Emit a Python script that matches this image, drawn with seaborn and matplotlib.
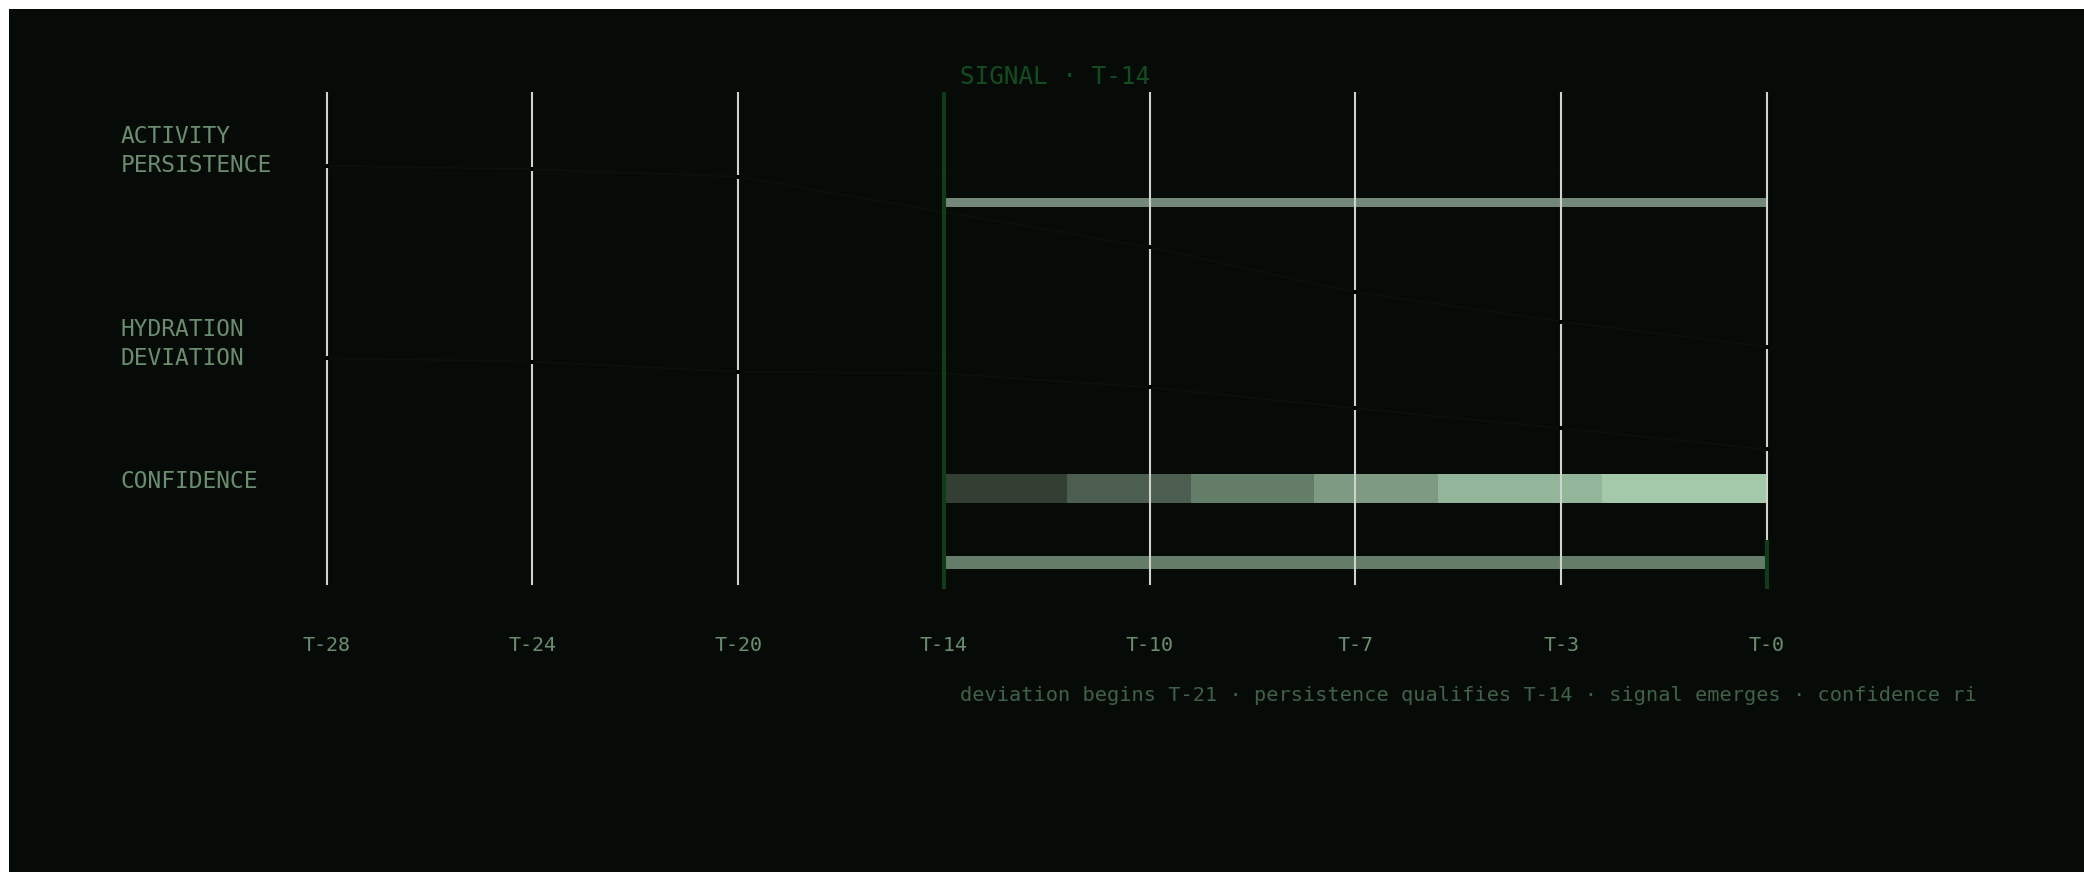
import matplotlib
matplotlib.use("Agg")
import matplotlib.pyplot as plt
from matplotlib.patches import Rectangle
import pandas as pd
import seaborn as sns

# ---------------- data ----------------
tick_labels = ["T-28", "T-24", "T-20", "T-14", "T-10", "T-7", "T-3", "T-0"]
activity_pct = [103.8, 102.0, 98.3, 80.6, 63.0, 40.5, 25.8, 13.3]    # % of baseline
hydration_pct = [100.0, 98.3, 93.3, 92.4, 85.5, 75.0, 65.0, 54.5]    # % of baseline
persistence_span = [3.0, 7.0]          # category index: T-14 .. T-0
signal_span = [3.0, 7.0]
conf_start = [3.0, 3.6, 4.2, 4.8, 5.4, 6.2]
conf_width = [0.6, 0.6, 0.6, 0.6, 0.8, 0.8]
conf_colors = ["#333f33", "#4c5e50", "#647d68", "#7e9a83", "#93b59a", "#a3c9aa"]
row_labels = ["ACTIVITY\nPERSISTENCE", "HYDRATION\nDEVIATION", "CONFIDENCE"]
signal_index = 3
title_text = "SIGNAL · T-14"
caption_text = ("deviation begins T-21 · persistence qualifies T-14 · "
                "signal emerges · confidence ri")

# ---------------- layout / style ----------------
W, H, DPI = 2084, 872, 100
BG = "#070b08"
GRID_C = "#d0d3cc"
GREEN = "#0e3d18"
LABEL_C = "#6a8d70"
CAPTION_C = "#3f6147"
TITLE_C = "#124d20"
MONO = ["DejaVu Sans Mono"]

ACT_BASE, HYD_BASE, PX_PER_PCT = 173.3, 358.3, 2.0
PERS_Y, PERS_H = 202.3, 8.7
CONF_Y, CONF_H = 488.3, 28.7
SIG_Y, SIG_H = 562.3, 12.7
GRID_TOP, GRID_BOT, GREEN_BOT, T0_GREEN_TOP = 91.7, 585.0, 589.0, 540.0
AX_TOP_PX, AX_BOT_PX, AX_LEFT_PX = 9, 600, 9
UNIT_PX = 205.75
X0_PX = 326.7

sns.set_theme(style="dark")
plt.rcParams["font.family"] = MONO

fig = plt.figure(figsize=(W / DPI, H / DPI), dpi=DPI, facecolor="white")
fig.patches.append(Rectangle((AX_LEFT_PX / W, 0), 1 - AX_LEFT_PX / W, 1 - AX_TOP_PX / H,
                             transform=fig.transFigure, facecolor=BG, edgecolor="none",
                             zorder=-5))
ax = fig.add_axes([AX_LEFT_PX / W, 1 - AX_BOT_PX / H, 1 - AX_LEFT_PX / W,
                   (AX_BOT_PX - AX_TOP_PX) / H])
ax.set_zorder(1)
ax.set_facecolor(BG)
xl = -(X0_PX - AX_LEFT_PX) / UNIT_PX
ax.set_xlim(xl, xl + (W - AX_LEFT_PX) / UNIT_PX)
ax.set_ylim(AX_BOT_PX, AX_TOP_PX)
for s in ax.spines.values():
    s.set_visible(False)
ax.grid(False)

idx = list(range(len(tick_labels)))

# bars
bar_kw = dict(edgecolor="none", linewidth=0, zorder=2)
ax.barh(PERS_Y, persistence_span[1] - persistence_span[0], left=persistence_span[0],
        height=PERS_H, color="#74887a", **bar_kw)
ax.barh([CONF_Y] * len(conf_start), conf_width, left=conf_start, height=CONF_H,
        color=conf_colors, **bar_kw)
ax.barh(SIG_Y, signal_span[1] - signal_span[0], left=signal_span[0],
        height=SIG_H, color="#647c68", **bar_kw)

# vertical guides
grey_idx = [i for i in idx if i != signal_index]
ax.vlines(grey_idx, GRID_TOP, GRID_BOT, color=GRID_C, lw=1.5, zorder=3)
ax.vlines([signal_index], GRID_TOP, GREEN_BOT, color=GREEN, lw=2.9, zorder=6)
ax.vlines([idx[-1]], T0_GREEN_TOP, GREEN_BOT, color=GREEN, lw=2.9, zorder=6)

# faint baselines
ax.hlines([ACT_BASE, HYD_BASE], idx[0], idx[-1], color="#080d09", lw=1, zorder=1)

# series lines (nearly background coloured, with dark markers)
df = pd.DataFrame({
    "x": idx * 2,
    "y": [ACT_BASE + (100 - v) * PX_PER_PCT for v in activity_pct]
         + [HYD_BASE + (100 - v) * PX_PER_PCT for v in hydration_pct],
    "series": ["activity"] * len(idx) + ["hydration"] * len(idx),
})
sns.lineplot(data=df, x="x", y="y", hue="series", palette=["#0a100c", "#0a100c"],
             estimator=None, sort=False, lw=1.2, marker="s", markersize=3.2,
             markerfacecolor="#020403", markeredgecolor="#020403",
             markeredgewidth=0, legend=False, ax=ax, zorder=4)

# ticks
ax.set_xticks(idx)
ax.set_xticklabels(tick_labels)
ax.tick_params(axis="x", length=0, pad=25.8, labelsize=14.4, labelcolor=LABEL_C)
ax.set_yticks([])
ax.set_xlabel("")
ax.set_ylabel("")

# row labels
row_tops = [125, 318, 470]
for lab, yt in zip(row_labels, row_tops):
    ax.text(-1.0, yt, lab, ha="left", va="top", fontsize=16.5, color=LABEL_C,
            linespacing=1.35, family=MONO)

# title
ax.text(signal_index + 16 / UNIT_PX, 65.0, title_text, ha="left", va="top",
        fontsize=17.5, color=TITLE_C, family=MONO)

# caption
fig.text((X0_PX + signal_index * UNIT_PX + 16) / W, 1 - 685.5 / H, caption_text,
         ha="left", va="top", fontsize=14.6, color=CAPTION_C, family=MONO)

fig.savefig("out.png", dpi=DPI, facecolor="white")
